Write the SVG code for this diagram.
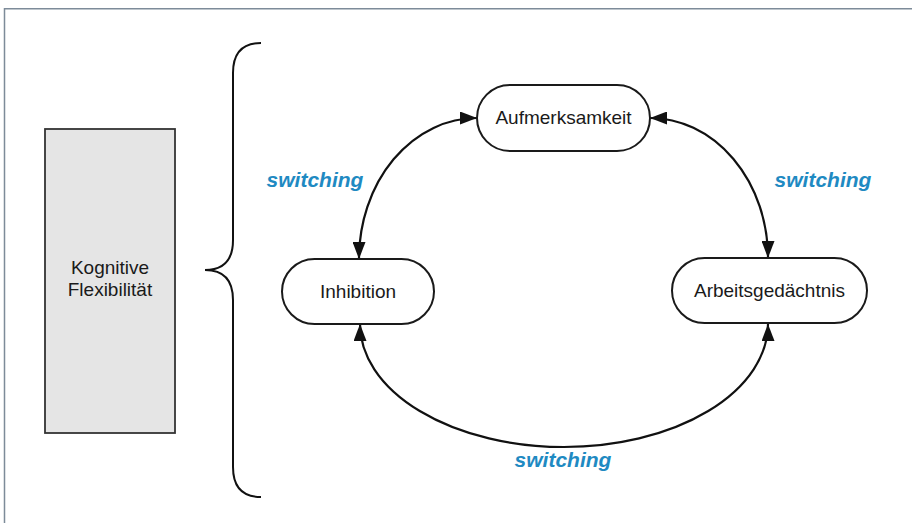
<svg xmlns="http://www.w3.org/2000/svg" width="912" height="523" viewBox="0 0 912 523">
  <style>
    .node { fill: #ffffff; stroke: #1a1a1a; stroke-width: 2; }
    .lbl { font-family: "Liberation Sans", Arial, sans-serif; font-size: 19px; fill: #1a1a1a; text-anchor: middle; }
    .sw { font-family: "Liberation Sans", Arial, sans-serif; font-size: 21px; font-weight: bold; font-style: italic; fill: #1f8ac2; text-anchor: middle; }
    .conn { fill: none; stroke: #111111; stroke-width: 2.2; }
  </style>
  <defs>
    <marker id="arr" markerUnits="userSpaceOnUse" markerWidth="18" markerHeight="13" refX="17" refY="6.5" orient="auto-start-reverse" viewBox="0 0 18 13">
      <path d="M0,0 L17,6.5 L0,13 z" fill="#111111"/>
    </marker>
  </defs>
  <rect width="912" height="523" fill="#ffffff"/>
  <path d="M4.5,523 V8.7 H912" fill="none" stroke="#7d8b99" stroke-width="1.5"/>

  <g id="kognitive-flexibilitaet">
    <rect x="45" y="129" width="130" height="304" fill="#e5e5e5" stroke="#333333" stroke-width="1.8"/>
    <text class="lbl" x="110" y="274">Kognitive</text>
    <text class="lbl" x="110" y="296">Flexibilität</text>
  </g>

  <g id="brace">
    <path d="M261,43 Q233,43 233,73 L233,240 Q233,270 205,270 Q233,270 233,300 L233,467 Q233,497 261,497" fill="none" stroke="#111111" stroke-width="2"/>
  </g>

  <g id="connectors">
    <path class="conn" d="M359,259 A118,141 0 0 1 477,118" marker-start="url(#arr)" marker-end="url(#arr)"/>
    <path class="conn" d="M650,118 A118,140 0 0 1 768,258" marker-start="url(#arr)" marker-end="url(#arr)"/>
    <path class="conn" d="M360,324 A204,123 0 0 0 768,324" marker-start="url(#arr)" marker-end="url(#arr)"/>
    <text class="sw" x="315" y="187">switching</text>
    <text class="sw" x="823" y="187">switching</text>
    <text class="sw" x="563" y="467">switching</text>
  </g>

  <g id="aufmerksamkeit">
    <rect class="node" x="477" y="85" width="173" height="66" rx="33"/>
    <text class="lbl" x="563.5" y="124">Aufmerksamkeit</text>
  </g>
  <g id="inhibition">
    <rect class="node" x="282" y="259" width="152" height="65" rx="32.5"/>
    <text class="lbl" x="358" y="298">Inhibition</text>
  </g>
  <g id="arbeitsgedaechtnis">
    <rect class="node" x="672" y="258" width="195" height="65" rx="32.5"/>
    <text class="lbl" x="769.5" y="297">Arbeitsgedächtnis</text>
  </g>
</svg>
